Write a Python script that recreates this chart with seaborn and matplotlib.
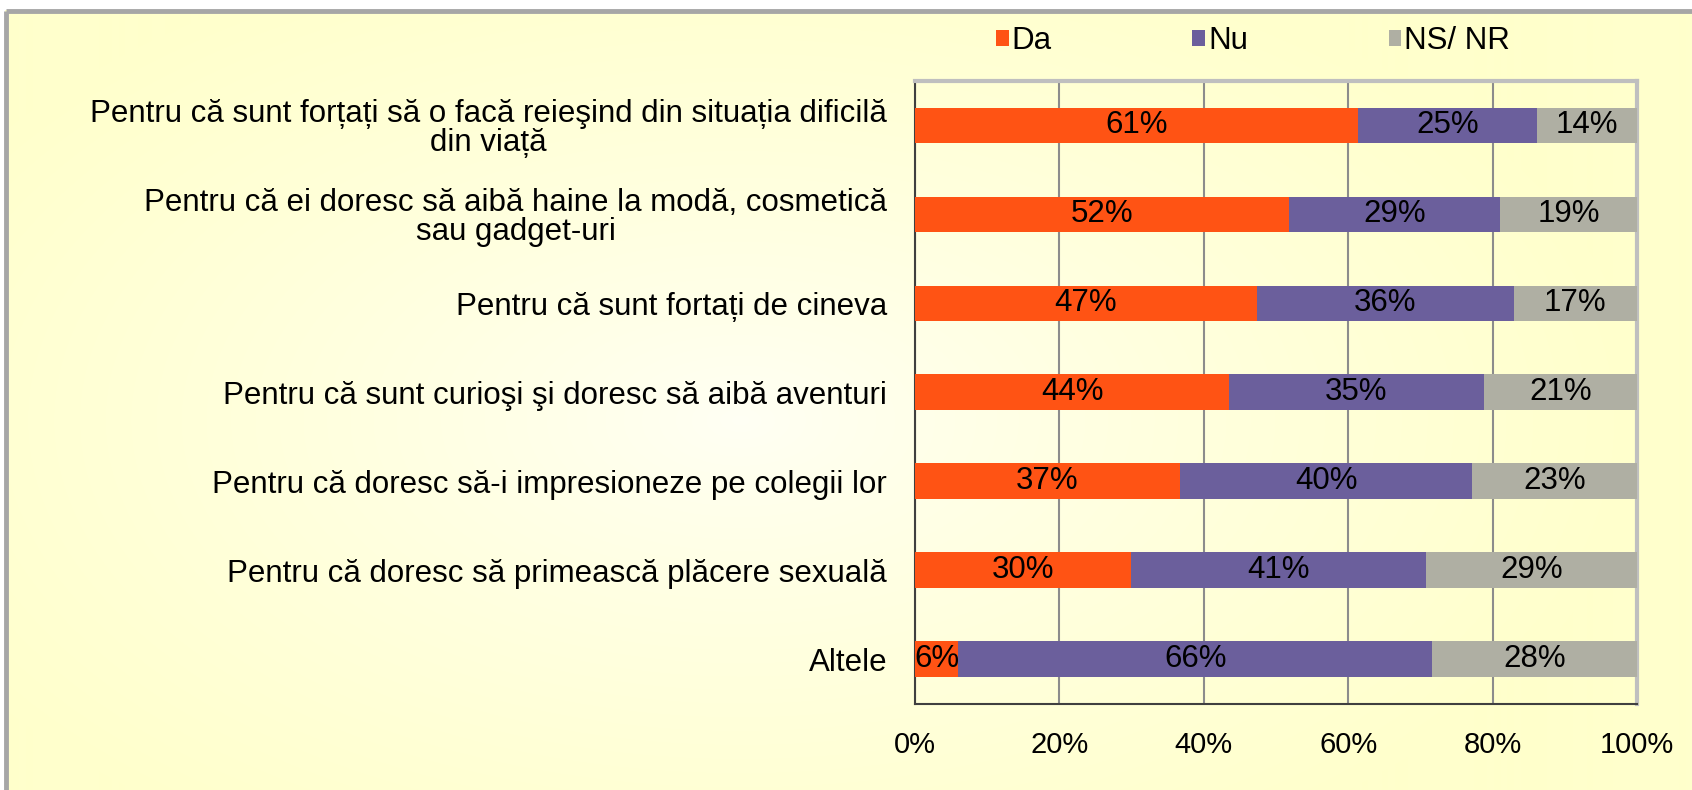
import numpy as np
import pandas as pd
import matplotlib
matplotlib.use("Agg")
import matplotlib.pyplot as plt
import seaborn as sns
from matplotlib.patches import Rectangle, Patch

categories = [
    "Pentru că sunt forțați să o facă reieşind din situația dificilă\ndin viață",
    "Pentru că ei doresc să aibă haine la modă, cosmetică\nsau gadget-uri",
    "Pentru că sunt fortați de cineva",
    "Pentru că sunt curioşi şi doresc să aibă aventuri",
    "Pentru că doresc să-i impresioneze pe colegii lor",
    "Pentru că doresc să primească plăcere sexuală",
    "Altele",
]
da = [61.4, 51.8, 47.3, 43.5, 36.7, 29.9, 6.0]
nu = [24.8, 29.2, 35.6, 35.3, 40.5, 40.9, 65.6]
ns = [13.8, 19.0, 17.1, 21.2, 22.8, 29.2, 28.4]
series_names = ["Da", "Nu", "NS/ NR"]
colors = ["#FF5314", "#6B5F9C", "#AFAFA3"]
x_ticks = [0, 20, 40, 60, 80, 100]

sns.set_style("white")
plt.rcParams["font.family"] = ["Liberation Sans", "DejaVu Sans"]
plt.rcParams["text.color"] = "black"
plt.rcParams["xtick.labelcolor"] = "black"
plt.rcParams["ytick.labelcolor"] = "black"

df = pd.DataFrame({"cat": categories, "Da": da, "Nu": nu, "NS": ns})
df["c1"] = df["Da"]
df["c2"] = df["Da"] + df["Nu"]
df["c3"] = df["c2"] + df["NS"]

fig = plt.figure(figsize=(16.92, 7.90), dpi=100)

# background: pale yellow with a light centre
bg = fig.add_axes([0, 0, 1, 1], zorder=-10)
yy, xx = np.mgrid[0:790, 0:1692]
d = np.sqrt(((xx - 740) / 900.0) ** 2 + ((yy - 420) / 500.0) ** 2)
t = np.clip(d, 0, 1) ** 0.8
c_in = np.array([255, 255, 245]) / 255.0
c_out = np.array([255, 255, 204]) / 255.0
img = c_in[None, None, :] * (1 - t[..., None]) + c_out[None, None, :] * t[..., None]
bg.imshow(img, aspect="auto", extent=[0, 1, 0, 1], origin="upper")
bg.set_xlim(0, 1)
bg.set_ylim(0, 1)
bg.axis("off")
# white margin and grey frame on top/left
bg.add_patch(Rectangle((0, 1 - 10 / 790), 1, 10 / 790, facecolor="white", edgecolor="none"))
bg.add_patch(Rectangle((0, 0), 5 / 1692, 1, facecolor="white", edgecolor="none"))
bg.plot([6 / 1692, 6 / 1692], [0, 1 - 11 / 790], color="#A6A6A6", lw=3.5, solid_capstyle="butt")
bg.plot([6 / 1692, 1], [1 - 11 / 790, 1 - 11 / 790], color="#A6A6A6", lw=3.5, solid_capstyle="butt")

ax = fig.add_axes([915 / 1692, 1 - 703.5 / 790, 722 / 1692, 622.5 / 790])
ax.patch.set_alpha(0)

for col, c in zip(["c3", "c2", "c1"], colors[::-1]):
    sns.barplot(data=df, x=col, y="cat", orient="h", color=c, width=0.4,
                saturation=1, ax=ax, zorder=3, edgecolor="none")

# value labels
for i in range(len(categories)):
    lefts = [0, da[i], da[i] + nu[i]]
    for left, v in zip(lefts, [da[i], nu[i], ns[i]]):
        ax.text(left + v / 2, i, f"{v:.0f}%", ha="center", va="center",
                fontsize=22.5, color="black", zorder=5)

ax.set_xlim(0, 100)
ax.set_ylim(len(categories) - 0.5, -0.5)
ax.set_xticks(x_ticks)
ax.set_xticklabels([f"{v}%" for v in x_ticks], fontsize=21)
ax.set_yticks(range(len(categories)))
ax.set_yticklabels(categories, fontsize=22.5, multialignment="center", linespacing=0.95)
ax.set_yticks(np.arange(-0.5, len(categories), 1), minor=True)
ax.tick_params(axis="y", which="major", length=0, pad=20)
ax.tick_params(axis="y", which="minor", length=7, width=1.2, color="#404040", direction="out")
ax.tick_params(axis="x", which="major", length=7, width=1.2, color="#404040", direction="out", pad=13)
ax.set_xlabel("")
ax.set_ylabel("")
ax.xaxis.grid(True, color="#8C8C8C", lw=1.5, zorder=1)
ax.set_axisbelow(True)
for s in ["left", "bottom"]:
    ax.spines[s].set_color("#404040")
    ax.spines[s].set_linewidth(1.5)
for s in ["top", "right"]:
    ax.spines[s].set_color("#BFBFBF")
    ax.spines[s].set_linewidth(3)

handles = [Patch(facecolor=c, edgecolor="none") for c in colors]
fig.legend(handles, series_names, loc="center left", bbox_to_anchor=(996 / 1692, 1 - 41 / 790),
           ncol=3, frameon=False, fontsize=22.5, handlelength=0.4, handleheight=0.4,
           handletextpad=0.1, columnspacing=4.5, borderpad=0, borderaxespad=0)

fig.savefig("out.png", dpi=100)
